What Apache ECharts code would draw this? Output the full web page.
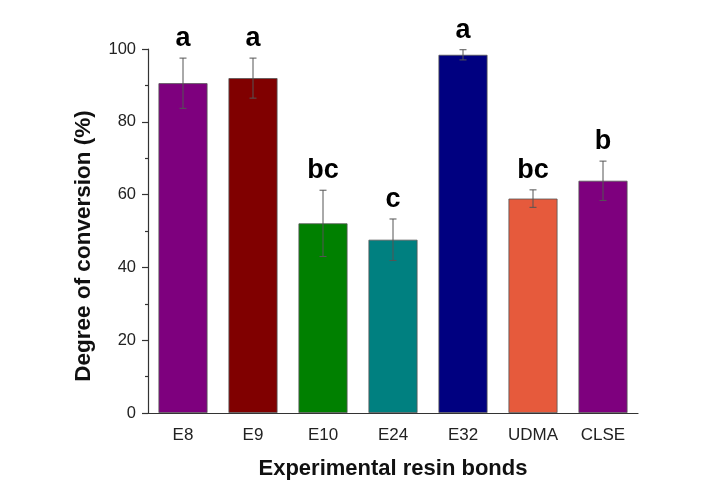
<!DOCTYPE html>
<html>
<head>
<meta charset="utf-8">
<script src="https://cdn.jsdelivr.net/npm/echarts@6/dist/echarts.min.js"></script>
<style>
  html, body { margin: 0; padding: 0; background: #fff; }
  #chart { width: 715px; height: 482px; }
</style>
</head>
<body>
<div id="chart"></div>
<script>
// 数据
var categories = ['E8', 'E9', 'E10', 'E24', 'E32', 'UDMA', 'CLSE'];
var conversion = [90.6, 92.0, 52.1, 47.6, 98.4, 58.9, 63.8];
var errors = [6.9, 5.5, 9.1, 5.7, 1.4, 2.4, 5.4];
var groups = ['a', 'a', 'bc', 'c', 'a', 'bc', 'b'];
var barColors = ['#7e007e', '#800000', '#008000', '#008080', '#000080', '#e65a3c', '#7e007e'];
var yTicks = [0, 20, 40, 60, 80, 100];

var font = 'Liberation Sans, Arial, sans-serif';

var barData = conversion.map(function (v, i) {
    return {
        value: v,
        itemStyle: { color: barColors[i] }
    };
});

var errData = conversion.map(function (v, i) {
    return [i, v - errors[i], v + errors[i], groups[i]];
});

/**
 * 误差线和显著性字母
 */
function renderError(params, api) {
    var x = api.value(0);
    var low = api.coord([x, api.value(1)]);
    var high = api.coord([x, api.value(2)]);
    var cap = 3.5;
    var style = { stroke: '#555', lineWidth: 1 };
    return {
        type: 'group',
        children: [
            { type: 'line', shape: { x1: high[0], y1: high[1], x2: low[0], y2: low[1] }, style: style },
            { type: 'line', shape: { x1: high[0] - cap, y1: high[1], x2: high[0] + cap, y2: high[1] }, style: style },
            { type: 'line', shape: { x1: low[0] - cap, y1: low[1], x2: low[0] + cap, y2: low[1] }, style: style },
            {
                type: 'text',
                style: {
                    text: api.value(3),
                    x: high[0],
                    y: high[1] - 6,
                    align: 'center',
                    verticalAlign: 'bottom',
                    fontFamily: font,
                    fontWeight: 'bold',
                    fontSize: 27,
                    fill: '#000'
                }
            }
        ]
    };
}

var option = {
    animation: false,
    backgroundColor: '#fff',
    grid: { left: 148, right: 77, top: 49, bottom: 69, outerBoundsMode: 'none' },
    xAxis: [
        {
            type: 'category',
            data: categories,
            name: 'Experimental resin bonds',
            nameLocation: 'middle',
            nameGap: 45,
            nameTextStyle: { fontFamily: font, fontWeight: 'bold', fontSize: 22, color: '#111' },
            axisLine: { lineStyle: { color: '#333', width: 1.2 } },
            axisTick: { alignWithLabel: true, length: 6, lineStyle: { color: '#333', width: 1.2 } },
            axisLabel: { fontFamily: font, fontSize: 17, color: '#222', margin: 14 }
        },
        {
            // 类别边界上的短刻度
            type: 'category',
            data: categories,
            position: 'bottom',
            axisLine: { show: false },
            axisTick: { length: 3, lineStyle: { color: '#333', width: 1.2 } },
            axisLabel: { show: false }
        }
    ],
    yAxis: {
        type: 'value',
        min: yTicks[0],
        max: yTicks[yTicks.length - 1],
        interval: 20,
        axisLine: { show: true, lineStyle: { color: '#333', width: 1.2 } },
        axisTick: { show: true, length: 6, lineStyle: { color: '#333', width: 1.2 } },
        minorTick: { show: true, splitNumber: 2, length: 3, lineStyle: { color: '#333', width: 1.2 } },
        splitLine: { show: false },
        axisLabel: { fontFamily: font, fontSize: 16.5, color: '#222', margin: 12 }
    },
    graphic: [
        {
            type: 'text',
            x: 84,
            y: 246,
            rotation: Math.PI / 2,
            style: {
                text: 'Degree of conversion (%)',
                align: 'center',
                verticalAlign: 'middle',
                fontFamily: font,
                fontWeight: 'bold',
                fontSize: 22.5,
                fill: '#111'
            }
        }
    ],
    series: [
        {
            type: 'bar',
            data: barData,
            barCategoryGap: '30%',
            itemStyle: { borderColor: '#555', borderWidth: 0.8 }
        },
        {
            type: 'custom',
            renderItem: renderError,
            data: errData,
            encode: { x: 0, y: [1, 2] },
            z: 5
        }
    ]
};

var myChart = echarts.init(document.getElementById('chart'));
myChart.setOption(option);
</script>
</body>
</html>
